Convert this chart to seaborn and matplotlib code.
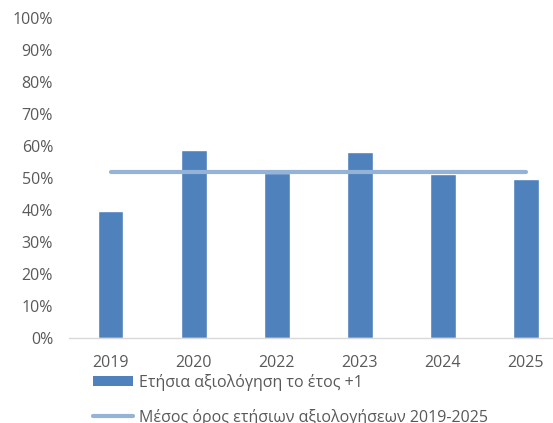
import matplotlib
matplotlib.use("Agg")
import matplotlib.pyplot as plt
import seaborn as sns
import numpy as np
import pandas as pd
from matplotlib.patches import Patch
from matplotlib.lines import Line2D

years = ["2019", "2020", "2022", "2023", "2024", "2025"]
annual = [0.397, 0.587, 0.515, 0.582, 0.513, 0.497]
average = 0.518
bar_label = "Ετήσια αξιολόγηση το έτος +1"
line_label = "Μέσος όρος ετήσιων αξιολογήσεων 2019-2025"
yticks = [0.0, 0.1, 0.2, 0.3, 0.4, 0.5, 0.6, 0.7, 0.8, 0.9, 1.0]

sns.set_theme(style="white")
plt.rcParams['font.family'] = ['Open Sans', 'DejaVu Sans']

W, H = 553, 423
fig = plt.figure(figsize=(W / 100, H / 100), dpi=100)
ax = fig.add_axes([69 / W, 1 - 338 / H, (567.5 - 69) / W, (338 - 18) / H])

df = pd.DataFrame({"year": years, "value": annual})
sns.barplot(data=df, x="year", y="value", color="#4F81BD", saturation=1,
            width=0.31, ax=ax, zorder=2)
xs = np.arange(len(years))
ax.plot(xs, [average] * len(years), color="#95B3D7", lw=3.0,
        solid_capstyle="round", zorder=3)

ax.set_xlim(-0.5, len(years) - 0.5)
ax.set_ylim(0, 1.0)
ax.set_yticks(yticks)
ax.set_yticklabels([f"{int(round(t * 100))}%" for t in yticks])
ax.set_xlabel("")
ax.set_ylabel("")
for s in ["top", "right", "left"]:
    ax.spines[s].set_visible(False)
ax.spines["bottom"].set_color("#D9D9D9")
ax.spines["bottom"].set_linewidth(1.0)
ax.tick_params(axis="both", length=0, labelsize=11.5, colors="#595959")
ax.tick_params(axis="x", pad=12.5)
ax.tick_params(axis="y", pad=11.5)

handles = [Patch(facecolor="#4F81BD", edgecolor="none"),
           Line2D([0], [0], color="#95B3D7", lw=3.0, solid_capstyle="round")]
leg = fig.legend(handles, [bar_label, line_label], loc="upper left",
                 bbox_to_anchor=(93 / W, 1 - 374 / H), frameon=False,
                 fontsize=11.5, handlelength=2.5, handleheight=0.6,
                 handletextpad=0.35, labelspacing=1.1, borderpad=0,
                 borderaxespad=0)
for t in leg.get_texts():
    t.set_color("#595959")

fig.savefig("out.png", dpi=100)
